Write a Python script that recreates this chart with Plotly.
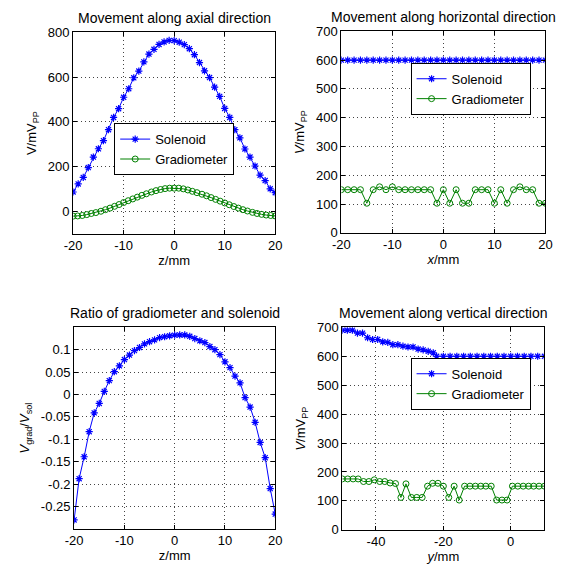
import plotly.graph_objects as go

# ---------------- data ----------------
# Axial movement (z in mm)
z_sol = list(range(-20, 21))
axial_sol = [87, 123, 152, 196, 243, 280, 316, 365, 420, 459, 510, 548, 597, 627, 668,
             703, 724, 746, 757, 764, 763, 756, 745, 727, 700, 665, 628, 598, 555, 514,
             460, 420, 365, 329, 279, 243, 203, 162, 138, 101, 84]
z_grad = [-20.0, -19.1, -18.2, -17.3, -16.4, -15.5, -14.5, -13.6, -12.7, -11.8, -10.9,
          -10.0, -9.1, -8.2, -7.3, -6.4, -5.5, -4.5, -3.6, -2.7, -1.8, -0.9, 0.0, 0.9,
          1.8, 2.7, 3.6, 4.5, 5.5, 6.4, 7.3, 8.2, 9.1, 10.0, 10.9, 11.8, 12.7, 13.6,
          14.5, 15.5, 16.4, 17.3, 18.2, 19.1, 20.0]
axial_grad = [-21, -20, -18, -14, -9, -5, 1, 8, 15, 23, 31, 40, 48, 56, 64, 72, 79, 87,
              93, 98, 102, 104, 104, 104, 101, 96, 90, 84, 77, 70, 62, 54, 46, 38, 30,
              22, 15, 8, 2, -4, -9, -13, -16, -18, -20]

# Horizontal movement (x in mm)
x_h = [-20, -18.75, -17.5, -16.25, -15, -13.75, -12.5, -11.25, -10, -8.75, -7.5, -6.25,
       -5, -3.75, -2.5, -1.25, 0, 1.25, 2.5, 3.75, 5, 6.25, 7.5, 8.75, 10, 11.25, 12.5,
       13.75, 15, 16.25, 17.5, 18.75, 20]
horiz_sol = [600] * 33
horiz_grad = [150, 150, 150, 150, 103, 150, 160, 150, 160, 150, 150, 150, 150, 150, 150,
              103, 150, 103, 150, 103, 103, 150, 150, 150, 103, 150, 103, 150, 160, 150,
              150, 103, 103]

# Ratio of gradiometer and solenoid
ratio = [-0.280, -0.188, -0.139, -0.083, -0.041, -0.020, 0.007, 0.031, 0.051, 0.064,
         0.078, 0.088, 0.098, 0.105, 0.113, 0.118, 0.122, 0.127, 0.129, 0.131, 0.1326,
         0.133, 0.133, 0.130, 0.125, 0.120, 0.116, 0.107, 0.100, 0.089, 0.073, 0.060,
         0.041, 0.026, -0.007, -0.028, -0.062, -0.107, -0.141, -0.210, -0.267]

# Vertical movement (y in mm)
y_v_sol = [-50, -48.5, -47, -45.5, -44, -42.5, -41, -39.5, -38, -36.5, -35, -33.5, -32,
           -30.5, -29, -27.5, -26, -24.5, -23, -22, -20, -18, -16, -14, -12, -10, -8,
           -6, -4, -2, 0, 2, 4, 6, 8, 10]
vert_sol = [690, 690, 690, 680, 680, 664, 658, 658, 650, 648, 640, 640, 635, 632, 632,
            625, 622, 617, 612, 600, 600, 600, 600, 600, 600, 600, 600, 600, 600, 600,
            600, 600, 600, 600, 600, 600]
y_v_grad = [-50.0, -48.4, -46.8, -45.3, -43.7, -42.1, -40.5, -38.9, -37.4, -35.8, -34.2,
            -32.6, -31.1, -29.5, -27.9, -26.3, -24.7, -23.2, -21.6, -20.0, -18.4, -16.8,
            -15.3, -13.7, -12.1, -10.5, -8.9, -7.4, -5.8, -4.2, -2.6, -1.1, 0.5, 2.1,
            3.7, 5.3, 6.8, 8.4, 10.0]
vert_grad = [176, 176, 176, 176, 167, 167, 173, 167, 167, 162, 160, 112, 159, 112, 112,
             112, 151, 161, 161, 151, 112, 151, 103, 151, 151, 151, 151, 151, 151, 103,
             103, 103, 151, 151, 151, 151, 151, 151, 151]

# tick labels (hyphen-minus as printed)
ticks_z = [-20, -10, 0, 10, 20]
ticks_z_text = ["-20", "-10", "0", "10", "20"]
ticks_axial = [0, 200, 400, 600, 800]
ticks_mv = [0, 100, 200, 300, 400, 500, 600, 700]
ticks_ratio = [-0.25, -0.2, -0.15, -0.1, -0.05, 0, 0.05, 0.1]
ticks_ratio_text = ["-0.25", "-0.2", "-0.15", "-0.1", "-0.05", "0", "0.05", "0.1"]
ticks_y = [-40, -20, 0]
ticks_y_text = ["-40", "-20", "0"]

# ---------------- styling ----------------
W, H = 566, 569
FONT = "Arial, Liberation Sans, sans-serif"
BLUE = "rgb(0,0,255)"
GREEN = "rgb(0,128,0)"
STAR = dict(symbol="asterisk-open", size=6, line=dict(color=BLUE, width=1.2))
RING = dict(symbol="circle-open", size=6, line=dict(color=GREEN, width=1))


def px_x(a, b):
    return [a / W, b / W]


def px_y(top, bottom):
    return [1 - bottom / H, 1 - top / H]


dom = {
    1: (px_x(66, 274), px_y(26, 233)),
    2: (px_x(342, 552), px_y(25, 232)),
    3: (px_x(67, 274), px_y(329, 536)),
    4: (px_x(343, 551), px_y(329, 537)),
}

fig = go.Figure()


def sol_trace(x, y, ax, legend, show):
    return go.Scatter(x=x, y=y, mode="lines+markers", name="Solenoid",
                      line=dict(color=BLUE, width=1), marker=STAR,
                      xaxis="x" + ax, yaxis="y" + ax, legend=legend, showlegend=show)


def grad_trace(x, y, ax, legend, show):
    return go.Scatter(x=x, y=y, mode="lines+markers", name="Gradiometer",
                      line=dict(color=GREEN, width=1), marker=RING,
                      xaxis="x" + ax, yaxis="y" + ax, legend=legend, showlegend=show)


fig.add_trace(sol_trace(z_sol, axial_sol, "", "legend", True))
fig.add_trace(grad_trace(z_grad, axial_grad, "", "legend", True))
fig.add_trace(sol_trace(x_h, horiz_sol, "2", "legend2", True))
fig.add_trace(grad_trace(x_h, horiz_grad, "2", "legend2", True))
fig.add_trace(go.Scatter(x=z_sol, y=ratio, mode="lines+markers", showlegend=False,
                         line=dict(color=BLUE, width=1), marker=STAR,
                         xaxis="x3", yaxis="y3"))
fig.add_trace(sol_trace(y_v_sol, vert_sol, "4", "legend3", True))
fig.add_trace(grad_trace(y_v_grad, vert_grad, "4", "legend3", True))

axis_common = dict(
    showline=True, linecolor="black", linewidth=1, mirror="ticks",
    ticks="inside", ticklen=4, tickcolor="black",
    showgrid=True, gridcolor="#444", griddash="1px,3px", gridwidth=1,
    zeroline=False, tickfont=dict(family=FONT, size=13, color="black"),
    title_font=dict(family=FONT, size=13, color="black"),
)

layout = dict(
    width=W, height=H, margin=dict(l=0, r=0, t=0, b=0),
    paper_bgcolor="white", plot_bgcolor="white",
    font=dict(family=FONT, color="black"),
)

xcfg = {
    1: dict(range=[-20, 20], tickvals=ticks_z, ticktext=ticks_z_text,
            title=dict(text="z/mm", standoff=2)),
    2: dict(range=[-20, 20], tickvals=ticks_z, ticktext=ticks_z_text,
            title=dict(text="<i>x</i>/mm", standoff=2)),
    3: dict(range=[-20, 20], tickvals=ticks_z, ticktext=ticks_z_text,
            title=dict(text="z/mm", standoff=2)),
    4: dict(range=[-50, 10], tickvals=ticks_y, ticktext=ticks_y_text,
            title=dict(text="<i>y</i>/mm", standoff=2)),
}
ycfg = {
    1: dict(range=[-100, 800], tickvals=ticks_axial,
            title=dict(text="V/mV<sub>PP</sub>", standoff=8)),
    2: dict(range=[0, 700], tickvals=ticks_mv,
            title=dict(text="<i>V</i>/mV<sub>PP</sub>", standoff=8)),
    3: dict(range=[-0.3, 0.15], tickvals=ticks_ratio, ticktext=ticks_ratio_text,
            title=dict(text="<i>V</i><sub>grad</sub>/<i>V</i><sub>sol</sub>", standoff=8)),
    4: dict(range=[0, 700], tickvals=ticks_mv,
            title=dict(text="<i>V</i>/mV<sub>PP</sub>", standoff=8)),
}

for i in range(1, 5):
    s = "" if i == 1 else str(i)
    xd, yd = dom[i]
    layout["xaxis" + s] = dict(axis_common, domain=xd, anchor="y" + s, **xcfg[i])
    layout["yaxis" + s] = dict(axis_common, domain=yd, anchor="x" + s, **ycfg[i])

# legends are centred where the boxes sit inside each panel
legend_common = dict(bgcolor="white", bordercolor="black", borderwidth=1,
                     font=dict(family=FONT, size=13, color="black"),
                     xanchor="center", yanchor="middle", tracegroupgap=0,
                     itemwidth=30)
layout["legend"] = dict(legend_common, x=170 / W, y=1 - 146 / H)
layout["legend2"] = dict(legend_common, x=475 / W, y=1 - 84 / H)
layout["legend3"] = dict(legend_common, x=475 / W, y=1 - 387 / H)

titles = {
    1: "Movement along axial direction",
    2: "Movement along horizontal direction",
    3: "Ratio of gradiometer and solenoid",
    4: "Movement along vertical direction",
}
annotations = []
for i, txt in titles.items():
    xd, yd = dom[i]
    annotations.append(dict(text=txt, xref="paper", yref="paper",
                            x=(xd[0] + xd[1]) / 2, y=yd[1], xanchor="center",
                            yanchor="bottom", yshift=4, showarrow=False,
                            font=dict(family=FONT, size=14, color="black")))
layout["annotations"] = annotations

fig.update_layout(**layout)
# the figure is sized to the whole page, so drop the browser's default body margin
fig.write_html("out.html",
               post_script="document.body.style.margin='0';"
                           "document.body.style.overflow='hidden';")
